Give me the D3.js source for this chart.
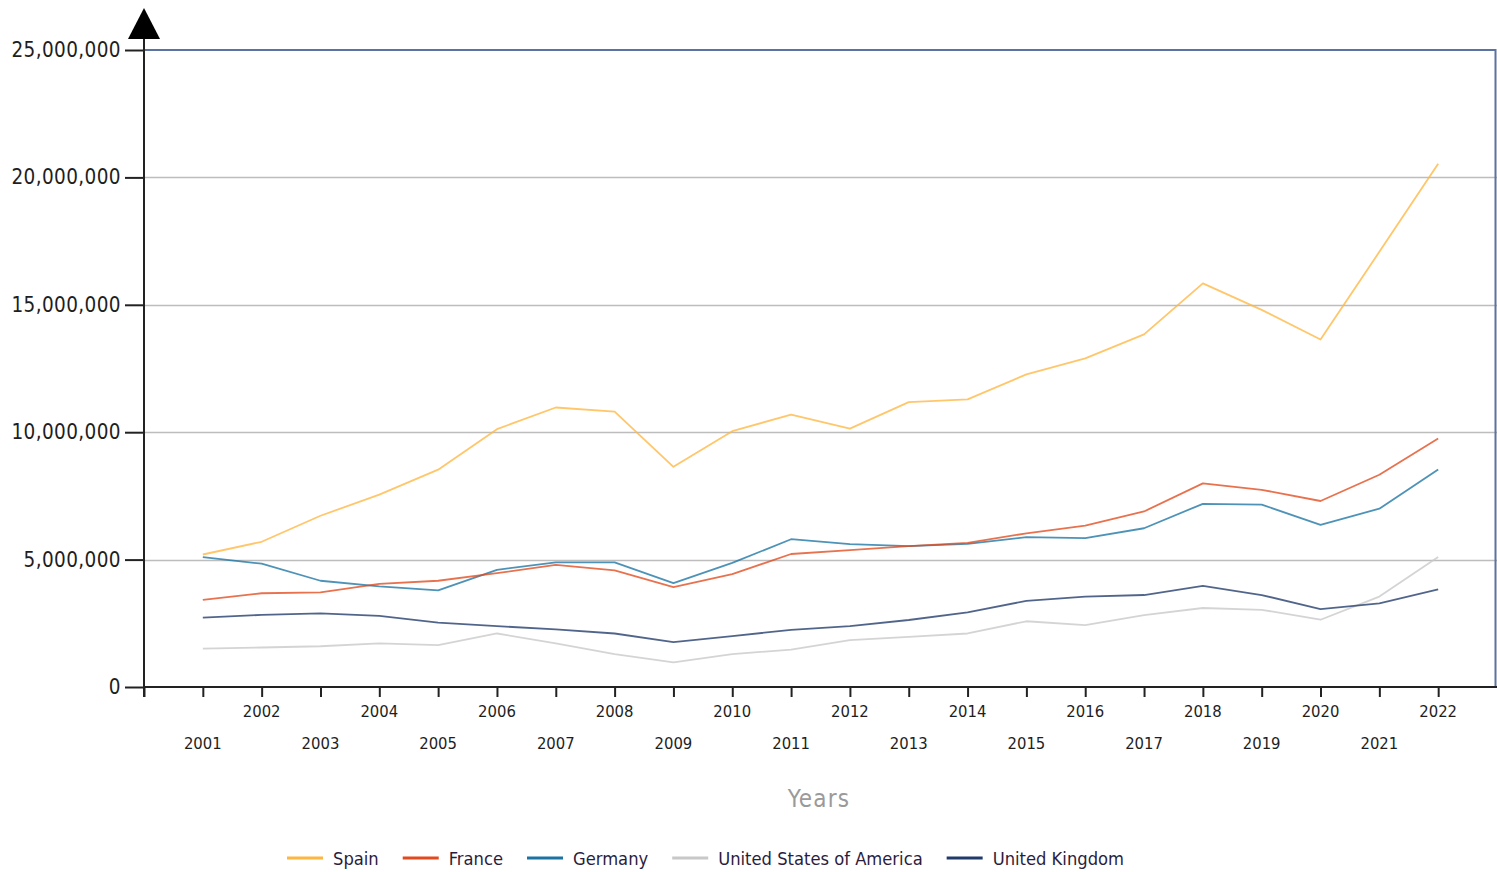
<!DOCTYPE html>
<html><head><meta charset="utf-8">
<script src="https://cdn.jsdelivr.net/npm/d3@7"></script>
<style>
html,body{margin:0;padding:0;background:#fff;}
svg{display:block;font-family:"DejaVu Sans Condensed","DejaVu Sans",sans-serif;}
</style></head>
<body>
<svg id="chart" width="1497" height="872"></svg>
<script>
const years = [2001,2002,2003,2004,2005,2006,2007,2008,2009,2010,2011,2012,2013,2014,2015,2016,2017,2018,2019,2020,2021,2022];
const seriesNames = ["Spain","France","Germany","United States of America","United Kingdom"];
const seriesColors = ["#FFB640","#E2491C","#1B73A3","#C8C8C8","#203A6A"];
const spain   = [5.20,5.70,6.72,7.55,8.53,10.12,10.97,10.81,8.64,10.04,10.69,10.14,11.18,11.29,12.27,12.90,13.84,15.84,14.80,13.64,17.08,20.54];
const france  = [3.42,3.68,3.71,4.05,4.17,4.47,4.79,4.58,3.92,4.43,5.22,5.37,5.53,5.66,6.03,6.33,6.89,7.99,7.74,7.30,8.33,9.75];
const germany = [5.10,4.84,4.17,3.95,3.79,4.60,4.89,4.89,4.08,4.87,5.80,5.61,5.53,5.62,5.88,5.84,6.23,7.19,7.16,6.36,7.00,8.54];
const usa     = [1.51,1.55,1.60,1.71,1.64,2.10,1.71,1.29,0.97,1.29,1.47,1.84,1.97,2.10,2.58,2.43,2.82,3.10,3.03,2.64,3.55,5.10];
const uk      = [2.72,2.83,2.89,2.79,2.53,2.39,2.26,2.10,1.76,2.00,2.24,2.39,2.63,2.93,3.38,3.55,3.61,3.97,3.61,3.06,3.28,3.83];
const seriesValues = [spain,france,germany,usa,uk];
const yTicks = [0,5000000,10000000,15000000,20000000,25000000];

(function(){
const svg = d3.select("#chart");
const mLeft = 144, mRight = 1497, mTop = 50, mBottom = 687;
const x = d3.scaleLinear().domain([2000,2023]).range([mLeft,mRight]);
const y = d3.scaleLinear().domain([0,25000000]).range([mBottom,mTop]);

// gridlines
svg.append("g").selectAll("line").data(yTicks.filter(t=>t>0 && t<25000000)).join("line")
  .attr("x1",mLeft).attr("x2",mRight).attr("y1",d=>Math.round(y(d))+0.5).attr("y2",d=>Math.round(y(d))+0.5)
  .attr("stroke","#bdbdbd").attr("stroke-width",1.3);

// top & right border
svg.append("path").attr("d",`M${mLeft},${y(25000000)}H${mRight-1.5}V${mBottom}`)
  .attr("fill","none").attr("stroke","#5b73a0").attr("stroke-width",2);

// y axis
const yAxis = d3.axisLeft(y).tickValues(yTicks).tickSize(19).tickPadding(4)
  .tickFormat(d3.format(","));
const gy = svg.append("g").attr("transform",`translate(${mLeft},0)`).call(yAxis);
gy.select(".domain").remove();
gy.selectAll(".tick line").attr("stroke","#222").attr("stroke-width",2);
gy.selectAll(".tick text").attr("fill","#1e1e1e").attr("font-size",20.5)
  .attr("letter-spacing",0.4)
  .attr("font-family","DejaVu Sans Condensed, DejaVu Sans, sans-serif");

// x axis
const xAxis = d3.axisBottom(x).tickValues([2000].concat(years)).tickSize(10).tickFormat("");
const gx = svg.append("g").attr("transform",`translate(0,${mBottom})`).call(xAxis);
gx.select(".domain").remove();
gx.selectAll(".tick line").attr("stroke","#222").attr("stroke-width",2);
svg.append("line").attr("x1",mLeft).attr("x2",mRight).attr("y1",mBottom).attr("y2",mBottom)
  .attr("stroke","#222").attr("stroke-width",2);
// x labels (staggered)
svg.append("g").selectAll("text").data(years).join("text")
  .attr("x",d=>x(d)).attr("y",d=>d%2===0?717:749)
  .attr("text-anchor","middle").attr("font-size",16.5).attr("fill","#1e1e1e")
  .text(d=>d);

// y axis line + arrow
svg.append("line").attr("x1",mLeft).attr("x2",mLeft).attr("y1",36).attr("y2",mBottom+10)
  .attr("stroke","#222").attr("stroke-width",2);
svg.append("path").attr("d",`M${mLeft},8L${mLeft+16},39L${mLeft-16},39Z`).attr("fill","#000");

// lines
const line = d3.line().x((d,i)=>x(years[i])).y(d=>y(d*1e6));
const drawOrder = [3,4,2,1,0];
drawOrder.forEach(k=>{
  svg.append("path").datum(seriesValues[k]).attr("d",line)
    .attr("fill","none").attr("stroke",seriesColors[k]).attr("stroke-width",1.8)
    .attr("stroke-opacity",0.78).attr("stroke-linejoin","round");
});

// axis title
svg.append("text").attr("x",819).attr("y",807).attr("text-anchor","middle")
  .attr("font-size",24).attr("letter-spacing",1.2).attr("fill","#9a9a9a").text("Years");

// legend
const lg = svg.append("g");
let lx = 287;
seriesNames.forEach((n,i)=>{
  lg.append("line").attr("x1",lx).attr("x2",lx+36).attr("y1",858).attr("y2",858)
    .attr("stroke",seriesColors[i]).attr("stroke-width",3);
  const t = lg.append("text").attr("x",lx+46).attr("y",865).attr("font-size",18.2)
    .attr("fill","#2b1d3d").text(n);
  lx = lx + 46 + t.node().getComputedTextLength() + 24;
});
})();
</script>
</body></html>
